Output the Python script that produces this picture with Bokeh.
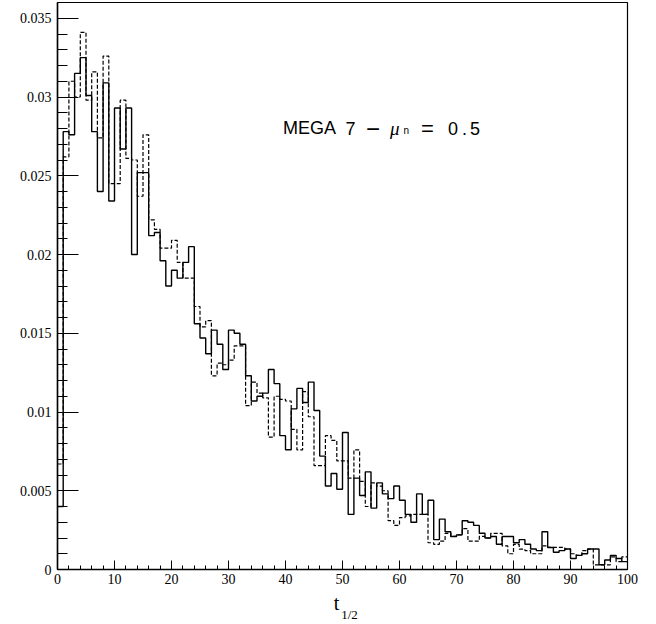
from bokeh.plotting import figure
from bokeh.models import Range1d, FixedTicker, Label, LinearAxis
from bokeh.embed import file_html
from bokeh.resources import INLINE

# bin edges 0..100 (width 1)
bin_edges = list(range(0, 101))

solid = [0.0040, 0.0278, 0.0276, 0.0315, 0.0325, 0.0301, 0.0278, 0.0240, 0.0309, 0.0234,
         0.0293, 0.0267, 0.0293, 0.0200, 0.0252, 0.0252, 0.0212, 0.0214, 0.0196, 0.0180,
         0.0190, 0.0185, 0.0195, 0.0205, 0.0156, 0.0147, 0.0137, 0.0152, 0.0143, 0.0127,
         0.0152, 0.0150, 0.0143, 0.0123, 0.0107, 0.0110, 0.0112, 0.0127, 0.0118, 0.0085,
         0.0076, 0.0102, 0.0115, 0.0106, 0.0119, 0.0101, 0.0072, 0.0053, 0.0061, 0.0051,
         0.0087, 0.0035, 0.0058, 0.0047, 0.0062, 0.0039, 0.0055, 0.0048, 0.0045, 0.0053,
         0.0044, 0.0035, 0.0030, 0.0048, 0.0035, 0.0044, 0.0019, 0.0032, 0.0024, 0.0021,
         0.0022, 0.0031, 0.0030, 0.0028, 0.0023, 0.0020, 0.0021, 0.0016, 0.0021, 0.0021,
         0.0017, 0.0019, 0.0016, 0.0013, 0.0012, 0.0024, 0.0014, 0.0011, 0.0012, 0.0013,
         0.0007, 0.0009, 0.0010, 0.0013, 0.0013, 0.0003, 0.0006, 0.0009, 0.0007, 0.0005]

dashed = [0.0067, 0.0262, 0.0310, 0.0300, 0.0341, 0.0298, 0.0316, 0.0274, 0.0326, 0.0245,
          0.0245, 0.0298, 0.0261, 0.0260, 0.0237, 0.0276, 0.0222, 0.0216, 0.0204, 0.0204,
          0.0209, 0.0195, 0.0185, 0.0185, 0.0167, 0.0154, 0.0158, 0.0123, 0.0131, 0.0130,
          0.0133, 0.0142, 0.0142, 0.0104, 0.0119, 0.0112, 0.0109, 0.0084, 0.0110, 0.0108,
          0.0107, 0.0089, 0.0076, 0.0113, 0.0097, 0.0066, 0.0066, 0.0085, 0.0082, 0.0069,
          0.0069, 0.0058, 0.0076, 0.0056, 0.0040, 0.0055, 0.0053, 0.0050, 0.0031, 0.0028,
          0.0033, 0.0034, 0.0035, 0.0035, 0.0035, 0.0017, 0.0016, 0.0018, 0.0023, 0.0021,
          0.0022, 0.0026, 0.0018, 0.0018, 0.0021, 0.0020, 0.0023, 0.0023, 0.0015, 0.0010,
          0.0016, 0.0013, 0.0012, 0.0010, 0.0010, 0.0015, 0.0014, 0.0014, 0.0014, 0.0013,
          0.0010, 0.0009, 0.0012, 0.0013, 0.0003, 0.0003, 0.0003, 0.0008, 0.0005, 0.0008]

x_ticks = [0, 10, 20, 30, 40, 50, 60, 70, 80, 90, 100]
y_ticks = [0, 0.005, 0.01, 0.015, 0.02, 0.025, 0.03, 0.035]
y_tick_labels = ["0", "0.005", "0.01", "0.015", "0.02", "0.025", "0.03", "0.035"]
x_title_main = "t"
x_title_sub = "1/2"

p = figure(width=656, height=624, output_backend="svg", toolbar_location=None,
           x_range=Range1d(0, 100), y_range=Range1d(0, 0.036),
           min_border_left=57, min_border_right=29, min_border_top=2, min_border_bottom=54)
p.grid.visible = False
p.outline_line_color = "black"
p.outline_line_width = 1.2
p.background_fill_color = "white"
p.border_fill_color = "white"

p.step(bin_edges, solid + [solid[-1]], mode="after", line_color="black", line_width=1.4)
p.step(bin_edges, dashed + [dashed[-1]], mode="after", line_color="black",
       line_width=1.2, line_dash="4 2")

x_minor = [v for v in range(0, 101, 2)]
y_minor = [round(k * 0.001, 4) for k in range(0, 37)]

p.xaxis.ticker = FixedTicker(ticks=x_ticks, minor_ticks=x_minor)
p.yaxis.ticker = FixedTicker(ticks=y_ticks, minor_ticks=y_minor)
p.yaxis.major_label_overrides = {t: s for t, s in zip(y_ticks, y_tick_labels)}

for ax in (p.xaxis[0], p.yaxis[0]):
    ax.axis_line_color = "black"
    ax.axis_line_width = 1.5
    ax.major_tick_out = 0
    ax.minor_tick_out = 0
    ax.major_tick_line_color = "black"
    ax.minor_tick_line_color = "black"
    ax.major_label_text_font = "Liberation Serif"
    ax.major_label_text_font_size = "14px"
    ax.major_label_text_color = "black"

p.xaxis.major_tick_in = 9
p.xaxis.minor_tick_in = 4
p.xaxis.major_label_standoff = 4
p.yaxis.major_tick_in = 21
p.yaxis.minor_tick_in = 10
p.yaxis.major_label_standoff = 6


def px_x(px):
    return (px - 57.5) / 5.7


def px_y(py):
    return (570.0 - py) / 15780.0


# x-axis title t_{1/2}, placed as tick labels of two bare extra axes
def bare_axis(pos, text, size, standoff):
    ax = LinearAxis(ticker=FixedTicker(ticks=[pos], minor_ticks=[]),
                    major_label_overrides={pos: text})
    ax.axis_line_color = None
    ax.major_tick_line_color = None
    ax.minor_tick_line_color = None
    ax.major_tick_out = 0
    ax.major_tick_in = 0
    ax.major_label_text_font = "Liberation Serif"
    ax.major_label_text_font_size = size
    ax.major_label_text_color = "black"
    ax.major_label_standoff = standoff
    p.add_layout(ax, "below")


bare_axis(round(px_x(336.5), 3), x_title_main, "20px", 5)
bare_axis(round(px_x(349.5), 3), x_title_sub, "13px", -10)


# annotation text
def lab(px, py, text, font="Liberation Sans", size="18px", style="normal"):
    p.add_layout(Label(x=px_x(px), y=px_y(py), text=text, text_font=font,
                       text_font_size=size, text_font_style=style, text_color="black",
                       text_baseline="alphabetic", text_align="left"))


lab(283, 128, "MEGA")
lab(345.5, 128, "7")
lab(366, 128, "\u2212", size="24px")
lab(390, 128, "\u03bc", font="Liberation Serif", size="19px", style="italic")
lab(403.5, 130.5, "n", size="10px")
lab(421, 128, "=", size="22px")
lab(448, 128, "0")
lab(462, 128, ".")
lab(470, 128, "5")

open("out.html", "w").write(file_html(p, INLINE))
